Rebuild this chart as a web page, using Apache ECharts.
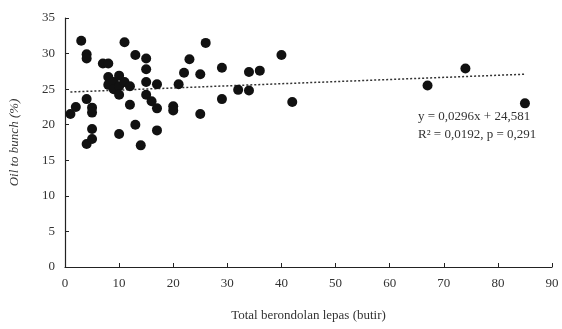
<!DOCTYPE html>
<html>
<head>
<meta charset="utf-8">
<script src="https://cdn.jsdelivr.net/npm/echarts@6/dist/echarts.min.js"></script>
<style>
  html, body { margin: 0; padding: 0; background: #fff; }
  #mainChart { width: 562px; height: 329px; }
</style>
</head>
<body>
<div id="mainChart"></div>
<script>
// berondolan lepas (butir) vs oil to bunch (%)
var obsX = [1, 2, 3, 4, 4, 4, 4, 5, 5, 5, 5, 7, 8, 8, 8, 9, 9, 10, 10, 10, 10, 11, 11, 12, 12, 13, 13, 14,
    15, 15, 15, 15, 16, 17, 17, 17, 20, 20, 21, 22, 23, 25, 25, 26, 29, 29, 32, 34, 34, 36, 40, 42, 67, 74, 85];
var obsY = [21.5, 22.5, 31.8, 29.9, 29.3, 23.6, 17.3, 22.4, 21.7, 19.4, 18.0, 28.6, 28.6, 26.7, 25.6, 26.0, 25.0,
    26.9, 25.4, 24.2, 18.7, 31.6, 26.0, 25.4, 22.8, 29.8, 20.0, 17.1, 29.3, 27.8, 26.0, 24.2, 23.3, 25.7, 22.3,
    19.2, 22.6, 22.0, 25.7, 27.3, 29.2, 27.1, 21.5, 31.5, 28.0, 23.6, 24.9, 27.4, 24.8, 27.6, 29.8, 23.2, 25.5,
    27.9, 23.0];

// garis tren (ujung-ujungnya)
var trendX = [1, 85];
var trendY = [24.6, 27.1];

var xTicks = [0, 10, 20, 30, 40, 50, 60, 70, 80, 90];
var yTicks = [0, 5, 10, 15, 20, 25, 30, 35];

var eqText = ['y = 0,0296x + 24,581', 'R\u00b2 = 0,0192, p = 0,291'];

var scatterData = obsX.map(function (x, i) { return [x, obsY[i]]; });
var trendData = trendX.map(function (x, i) { return [x, trendY[i]]; });

var myChart = echarts.init(document.getElementById('mainChart'));

var fontFam = '"Liberation Serif", "DejaVu Serif", serif';

var option = {
    animation: false,
    textStyle: { fontFamily: fontFam },
    grid: { left: 65, right: 10, top: 18, bottom: 62 },
    xAxis: {
        type: 'value',
        min: xTicks[0],
        max: xTicks[xTicks.length - 1],
        interval: 10,
        name: 'Total berondolan lepas (butir)',
        nameLocation: 'middle',
        nameGap: 42,
        nameTextStyle: { color: '#333', fontSize: 13, fontFamily: fontFam },
        axisLine: { lineStyle: { color: '#222', width: 1.2 } },
        axisTick: { inside: true, length: 4, lineStyle: { color: '#222' } },
        axisLabel: { color: '#333', fontSize: 13, margin: 10, fontFamily: fontFam },
        splitLine: { show: false }
    },
    yAxis: {
        type: 'value',
        min: yTicks[0],
        max: yTicks[yTicks.length - 1],
        interval: 5,
        name: 'Oil to bunch (%)',
        nameLocation: 'middle',
        nameGap: 44,
        nameTextStyle: { color: '#333', fontSize: 13, fontStyle: 'italic', fontFamily: fontFam },
        axisLine: { show: true, lineStyle: { color: '#222', width: 1.2 } },
        axisTick: { show: true, inside: true, length: 4, lineStyle: { color: '#222' } },
        axisLabel: { color: '#333', fontSize: 13, margin: 10, fontFamily: fontFam },
        splitLine: { show: false }
    },
    series: [{
        name: 'obs',
        type: 'scatter',
        data: scatterData,
        symbolSize: 10,
        itemStyle: { color: '#111', opacity: 1 },
        z: 3
    }, {
        name: 'trend',
        type: 'line',
        data: trendData,
        symbol: 'none',
        lineStyle: { color: '#333', width: 1.5, type: [2, 2] },
        z: 2
    }],
    graphic: [{
        type: 'text',
        left: 418,
        top: 108,
        style: {
            text: eqText.join('\n'),
            font: '13px ' + fontFam,
            fill: '#333',
            lineHeight: 18,
            textAlign: 'left'
        }
    }]
};

myChart.setOption(option);
</script>
</body>
</html>
